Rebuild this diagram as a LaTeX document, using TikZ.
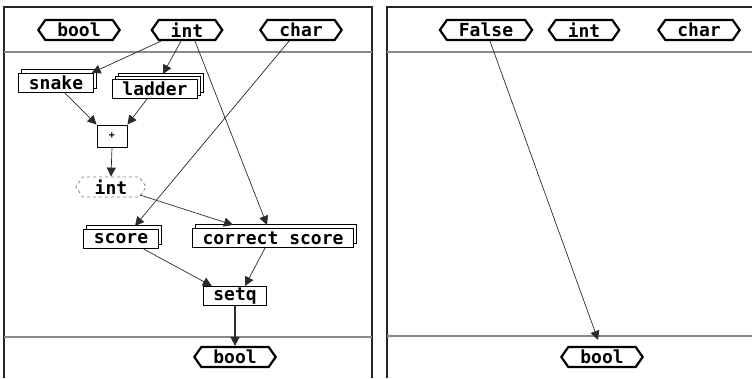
\documentclass[tikz,border=0pt]{standalone}
\usepackage{fontspec}
\usetikzlibrary{shapes.symbols,arrows.meta,shadows}
\newfontfamily\pixfont{DejaVu Sans Mono}
\definecolor{wire}{HTML}{2B2B2B}
\definecolor{rulegray}{HTML}{8A8A8A}

\begin{document}
\begin{tikzpicture}[x=1pt,y=-1pt,
  label font/.style={font=\pixfont\bfseries\fontsize{18}{18}\selectfont},
  typetag/.style={shape=signal, signal to=west and east, signal pointer angle=110, draw=black,
    line width=2.2pt, fill=white, minimum height=20pt, inner xsep=12pt, inner ysep=1pt, label font},
  ghosttag/.style={typetag, draw=gray, line width=0.8pt, dash pattern=on 3pt off 3pt},
  fnbox/.style={draw=black, line width=1.1pt, fill=white, minimum height=19pt, inner xsep=10pt, inner ysep=1pt, label font},
  stacked/.style={fnbox, copy shadow={shadow xshift=3pt, shadow yshift=4pt, draw=black, line width=1.1pt}},
  stacked2/.style={fnbox,
    copy shadow={shadow xshift=6pt, shadow yshift=6pt, draw=black, line width=1.1pt},
    copy shadow={shadow xshift=3pt, shadow yshift=3pt, draw=black, line width=1.1pt}},
  opbox/.style={draw=black, line width=0.9pt, minimum width=30pt, minimum height=22pt, inner sep=0pt,
    font=\pixfont\bfseries\fontsize{10}{10}\selectfont},
  wire/.style={draw=wire, line width=0.7pt, -{Triangle[length=9pt,width=9pt]}},
  panel/.style={draw=black!85, line width=1.6pt},
  sep/.style={draw=rulegray, line width=1.2pt}]
  \useasboundingbox (0,0) rectangle (752,378);

  % panels
  \draw[panel] (4,378) -- (4,7) -- (372,7) -- (372,378);
  \draw[panel] (387,378) -- (387,7) -- (752,7);
  \draw[sep] (4,52) -- (372,52);
  \draw[sep] (4,337) -- (372,337);
  \draw[sep] (387,52) -- (752,52);
  \draw[sep] (387,336) -- (752,336);

  % left panel
  \node[typetag] (bool) at (79,30) {bool};
  \node[typetag] (int) at (187,30) {int};
  \node[typetag] (char) at (301,30) {char};
  \node[stacked] (snake) at (56,83) {snake};
  \node[stacked2] (ladder) at (155,89) {ladder};
  \node[opbox] (plus) at (112,136) {+};
  \node[ghosttag] (sum) at (111,187) {int};
  \node[stacked] (score) at (121,239) {score};
  \node[stacked] (correct) at (273,238) {correct score};
  \node[fnbox] (setq) at (235,296) {setq};
  \node[typetag] (result) at (235,357) {bool};

  \draw[wire] ([xshift=-26pt]int.south) -- ([xshift=-2pt]snake.north east);
  \draw[wire] ([xshift=-6pt]int.south) -- ([xshift=8pt,yshift=5pt]ladder.north);
  \draw[wire] ([xshift=8pt]int.south) -- ([xshift=-6pt,yshift=3pt]correct.north);
  \draw[wire] ([xshift=-12pt]char.south) -- ([xshift=14pt,yshift=3pt]score.north);
  \draw[wire] ([xshift=9pt]snake.south) -- (plus.north west);
  \draw[wire] ([xshift=-8pt]ladder.south) -- (plus.north east);
  \draw[wire] (plus.south) -- (sum.north);
  \draw[wire] ([xshift=29pt,yshift=-8pt]sum.center) -- ([xshift=-40pt,yshift=3pt]correct.north);
  \draw[wire] ([xshift=-15pt]score.south east) -- ([xshift=9pt]setq.north west);
  \draw[wire] ([xshift=-8pt]correct.south) -- ([xshift=10pt]setq.north);
  \draw[wire, line width=1.2pt] (setq.south) -- (result.north);

  % right panel
  \node[typetag] (false) at (486,30) {False};
  \node[typetag] (int2) at (584,30) {int};
  \node[typetag] (char2) at (699,30) {char};
  \node[typetag] (result2) at (602,357) {bool};
  \draw[wire] ([xshift=4pt]false.south) -- ([xshift=-4pt,yshift=6pt]result2.north);
\end{tikzpicture}
\end{document}
